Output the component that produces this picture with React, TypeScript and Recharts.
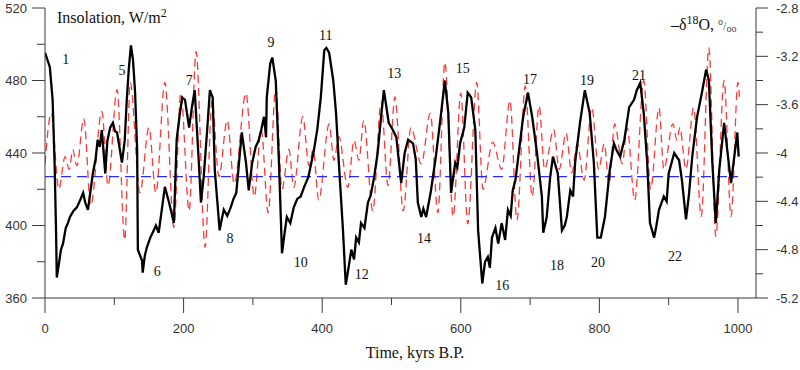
import React from 'react';
import { LineChart, Line, XAxis, YAxis, ReferenceDot, Label } from 'recharts';

// δ18O record (right axis, ‰)
const blackTimes = [0,3,7,11,14,16,17,20,23,26,30,33,36,41,46,50,55,58,62,66,69,73,76,79,82,87,90,94,98,101,104,111,115,118,121,124,127,130,133,134,140,141,144,147,152,157,160,164,169,173,179,186,190,194,198,202,208,212,216,222,225,229,234,238,242,245,252,255,258,263,268,272,276,280,284,290,294,299,304,308,312,316,319,320,325,328,333,338,342,346,349,354,359,364,369,374,380,388,393,398,403,406,410,416,420,424,430,434,438,442,446,449,453,456,461,466,470,475,480,485,489,496,502,507,514,519,524,531,535,538,543,546,550,557,564,571,577,582,586,592,595,599,605,610,615,621,625,631,635,639,642,645,650,654,659,664,668,672,675,679,683,690,697,703,710,717,719,724,729,733,740,746,750,753,758,762,765,772,779,786,792,797,802,808,815,821,825,830,836,843,850,854,859,864,869,873,879,882,886,893,897,900,908,915,919,925,929,934,941,948,954,958,963,968,973,980,984,990,994,999,1001];
const blackValues = [-3.17,-3.22,-3.29,-3.56,-4.12,-4.66,-5.03,-4.92,-4.80,-4.75,-4.62,-4.58,-4.53,-4.48,-4.45,-4.40,-4.33,-4.41,-4.47,-4.30,-4.17,-4.05,-3.89,-3.95,-3.81,-4.17,-3.90,-3.79,-3.75,-3.82,-3.83,-4.08,-3.90,-3.56,-3.30,-3.11,-3.23,-3.50,-3.98,-4.80,-4.89,-4.99,-4.85,-4.78,-4.70,-4.64,-4.60,-4.66,-4.45,-4.28,-4.41,-4.58,-3.89,-3.70,-3.54,-3.56,-3.79,-3.62,-3.48,-4.08,-4.41,-4.20,-3.81,-3.48,-3.54,-4.14,-4.64,-4.55,-4.47,-4.52,-4.45,-4.38,-4.33,-4.08,-3.83,-4.08,-4.31,-4.08,-3.95,-3.90,-3.81,-3.70,-3.87,-3.54,-3.26,-3.21,-3.40,-4.14,-4.83,-4.65,-4.53,-4.58,-4.45,-4.38,-4.36,-4.28,-4.20,-3.98,-3.80,-3.54,-3.15,-3.13,-3.17,-3.40,-3.67,-4.08,-4.64,-5.09,-4.95,-4.80,-4.88,-4.70,-4.74,-4.58,-4.62,-4.41,-4.35,-4.20,-4.00,-3.70,-3.48,-3.75,-3.81,-3.87,-4.25,-4.00,-3.89,-3.92,-4.05,-4.41,-4.53,-4.46,-4.53,-4.31,-4.03,-3.70,-3.40,-3.67,-4.33,-4.08,-4.12,-3.92,-3.79,-3.50,-3.54,-3.81,-4.64,-5.08,-4.90,-4.86,-4.95,-4.70,-4.62,-4.75,-4.58,-4.72,-4.47,-4.52,-4.31,-4.22,-4.03,-3.70,-3.50,-3.70,-4.00,-4.36,-4.66,-4.53,-4.20,-4.03,-4.17,-4.64,-4.60,-4.53,-4.31,-4.36,-4.08,-3.75,-3.48,-3.67,-4.08,-4.70,-4.70,-4.53,-4.14,-3.92,-3.98,-4.03,-3.89,-3.62,-3.56,-3.48,-3.42,-3.67,-4.08,-4.58,-4.70,-4.61,-4.47,-4.36,-4.40,-4.17,-4.00,-4.06,-4.22,-4.55,-4.36,-4.03,-3.70,-3.50,-3.31,-3.40,-4.08,-4.58,-4.14,-3.75,-3.95,-4.25,-4.06,-3.83,-4.03];

// Insolation (left axis, W/m2)
const redTimes = [0,9,20,29,35,40,46,56,66,82,91,104,115,123,137,150,160,173,186,196,208,218,231,241,251,263,273,290,302,312,322,333,342,352,359,372,381,387,395,410,417,424,437,446,453,460,473,485,495,505,517,528,543,556,567,577,589,600,610,623,632,646,659,671,681,693,703,713,721,734,742,752,760,768,778,789,799,807,814,822,833,840,851,864,874,886,893,906,912,916,925,936,947,958,968,980,990,1000,1002];
const redValues = [434,462,420,438,431,442,433,459,411,463,422,475,392,479,418,454,418,479,399,473,408,496,388,469,427,458,423,473,416,453,407,476,420,442,421,460,433,442,414,456,436,449,421,447,436,458,408,468,422,471,408,454,434,462,407,490,405,473,401,479,420,446,431,469,403,477,416,466,431,453,431,451,429,445,425,465,431,445,423,456,434,454,414,480,420,465,431,456,447,454,431,465,405,498,394,480,405,479,471];

// Mean insolation level
const baselineTimes = [0, 1000];
const baselineLevel = 427;

// Stage labels
const stageNames = ['1','5','6','7','8','9','10','11','12','13','14','15','16','17','18','19','20','21','22'];
const stageTimes = [30,111,162,208,267,326,369,405,457,504,547,603,660,700,739,782,798,857,909];
const stageLevels = [492,486,375,480,393,501,380,505,373,484,393,487,367,481,378,480,380,483,383];

const xTicks = [0,100,200,300,400,500,600,700,800,900,1000];
const leftTicks = [360,380,400,420,440,460,480,500,520];
const rightTicks = [-5.2,-5.0,-4.8,-4.6,-4.4,-4.2,-4.0,-3.8,-3.6,-3.4,-3.2,-3.0,-2.8];

const blackData = blackTimes.map((t, i) => ({ t, v: blackValues[i] }));
const redData = redTimes.map((t, i) => ({ t, v: redValues[i] }));
const baselineData = baselineTimes.map((t) => ({ t, v: baselineLevel }));

const AX = '#3a3a3a';
const SANS = '"Liberation Sans", Arial, sans-serif';
const SERIF = '"Liberation Serif", "Times New Roman", serif';

const XTick = (p: any) => {
  const { x, y, payload } = p;
  const major = payload.value % 200 === 0;
  return (
    <g>
      <line x1={x} y1={y} x2={x} y2={y + (major ? 15 : 7)} stroke={AX} strokeWidth={1} />
      {major && (
        <text x={x} y={y + 30} dy="0.35em" textAnchor="middle" fontFamily={SANS} fontSize={13} fill="#333">
          {payload.value}
        </text>
      )}
    </g>
  );
};

const LeftTick = (p: any) => {
  const { x, y, payload } = p;
  const major = payload.value % 40 === 0;
  return (
    <g>
      <line x1={x} y1={y} x2={x - (major ? 13 : 8)} y2={y} stroke={AX} strokeWidth={1} />
      {major && (
        <text x={x - 18} y={y} dy="0.35em" textAnchor="end" fontFamily={SANS} fontSize={13} fill="#333">
          {payload.value}
        </text>
      )}
    </g>
  );
};

const RightTick = (p: any) => {
  const { x, y, payload } = p;
  const k = Math.round(Math.abs((payload.value + 2.8) * 10));
  const major = k % 4 === 0;
  const label = String(Number(payload.value.toFixed(1)));
  return (
    <g>
      <line x1={x} y1={y} x2={x + (major ? 12 : 7)} y2={y} stroke={AX} strokeWidth={1} />
      {major && (
        <text x={x + 20} y={y} dy="0.35em" textAnchor="start" fontFamily={SANS} fontSize={13} fill="#333">
          {label}
        </text>
      )}
    </g>
  );
};

const XTitle = () => (
  <text x={415} y={358} textAnchor="middle" fontFamily={SERIF} fontSize={16} fill="#111">
    Time, kyrs B.P.
  </text>
);

const LeftTitle = () => (
  <text x={57} y={23} fontFamily={SERIF} fontSize={16} fill="#111">
    Insolation, W/m<tspan fontSize={12} dy={-6}>2</tspan>
  </text>
);

const RightTitle = () => (
  <text x={671} y={30} fontFamily={SERIF} fontSize={16} fill="#111">
    –δ<tspan fontSize={12} dy={-6}>18</tspan>
    <tspan dy={6}>O, </tspan>
    <tspan fontSize={10} dy={-5} fill="#444">o</tspan>
    <tspan fontSize={12} dy={5} fill="#444">/</tspan>
    <tspan fontSize={10} dy={2} fill="#444">oo</tspan>
  </text>
);

const makeStageLabel = (text: string) => (p: any) => {
  const vb = p.viewBox || {};
  const cx = (vb.x || 0) + (vb.width || 0) / 2;
  const cy = (vb.y || 0) + (vb.height || 0) / 2;
  return (
    <text x={cx} y={cy} dy="0.35em" textAnchor="middle" fontFamily={SERIF} fontSize={14} fill="#111" stroke="none">
      {text}
    </text>
  );
};

export default function App() {
  return (
    <div style={{ position: 'absolute', left: 0, top: 0, width: 800, height: 370, background: '#fff' }}>
      <LineChart width={800} height={370} margin={{ top: 8, right: 0, bottom: 0, left: 0 }}>
        <XAxis
          type="number"
          dataKey="t"
          domain={[0, 1026]}
          ticks={xTicks}
          interval={0}
          height={72}
          tickSize={0}
          tickMargin={0}
          tickLine={false}
          axisLine={{ stroke: AX }}
          tick={<XTick />}
          allowDataOverflow
        >
          <Label content={<XTitle />} />
        </XAxis>
        <YAxis
          yAxisId="left"
          type="number"
          domain={[360, 520]}
          ticks={leftTicks}
          interval={0}
          width={45}
          tickSize={0}
          tickMargin={0}
          tickLine={false}
          axisLine={{ stroke: AX }}
          tick={<LeftTick />}
          allowDataOverflow
        >
          <Label content={<LeftTitle />} />
        </YAxis>
        <YAxis
          yAxisId="right"
          orientation="right"
          type="number"
          domain={[-5.2, -2.8]}
          ticks={rightTicks}
          interval={0}
          width={44}
          tickSize={0}
          tickMargin={0}
          tickLine={false}
          axisLine={{ stroke: AX }}
          tick={<RightTick />}
          allowDataOverflow
        >
          <Label content={<RightTitle />} />
        </YAxis>
        <Line
          yAxisId="left"
          data={redData}
          dataKey="v"
          type="monotone"
          stroke="#ff3838"
          strokeWidth={1.3}
          strokeDasharray="8 5"
          dot={false}
          isAnimationActive={false}
        />
        <Line
          yAxisId="left"
          data={baselineData}
          dataKey="v"
          type="linear"
          stroke="#2a2aff"
          strokeWidth={1.3}
          strokeDasharray="10 6"
          dot={false}
          isAnimationActive={false}
        />
        <Line
          yAxisId="right"
          data={blackData}
          dataKey="v"
          type="linear"
          stroke="#000"
          strokeWidth={2.3}
          dot={false}
          isAnimationActive={false}
        />
        {stageNames.map((n, i) => (
          <ReferenceDot
            key={n}
            yAxisId="left"
            x={stageTimes[i]}
            y={stageLevels[i]}
            r={0}
            fill="none"
            stroke="none"
            label={{ content: makeStageLabel(n) }}
          />
        ))}
      </LineChart>
    </div>
  );
}
